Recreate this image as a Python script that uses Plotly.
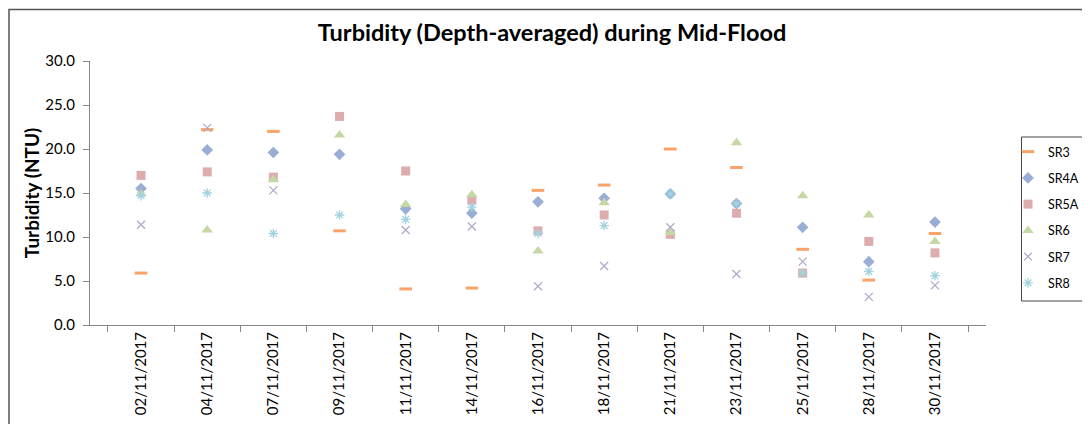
import plotly.graph_objects as go

dates = ["02/11/2017", "04/11/2017", "07/11/2017", "09/11/2017", "11/11/2017",
         "14/11/2017", "16/11/2017", "18/11/2017", "21/11/2017", "23/11/2017",
         "25/11/2017", "28/11/2017", "30/11/2017"]

sr3 = [5.9, 22.2, 22.0, 10.7, 4.1, 4.2, 15.3, 15.9, 20.0, 17.9, 8.6, 5.1, 10.4]
sr4a = [15.5, 19.9, 19.6, 19.4, 13.2, 12.7, 14.0, 14.4, 14.9, 13.8, 11.1, 7.2, 11.7]
sr5a = [17.0, 17.4, 16.8, 23.7, 17.5, 14.2, 10.7, 12.5, 10.3, 12.7, 5.9, 9.5, 8.2]
sr6 = [14.9, 10.8, 16.5, 21.6, 13.7, 14.8, 8.4, 13.9, 10.5, 20.7, 14.7, 12.5, 9.5]
sr7 = [11.4, 22.4, 15.3, None, 10.8, 11.2, 4.4, 6.7, 11.1, 5.8, 7.2, 3.2, 4.5]
sr8 = [14.7, 15.0, 10.4, 12.5, 12.0, 13.4, 10.4, 11.3, 14.9, 13.8, 5.9, 6.1, 5.6]

series = [
    ("SR3", sr3, "line-ew", 9, "#F9A36A", 3),
    ("SR4A", sr4a, "diamond", 9, "#9AADD5", 0),
    ("SR5A", sr5a, "square", 9, "#DDADAE", 0),
    ("SR6", sr6, "triangle-up", 10, "#C5D8A3", 0),
    ("SR7", sr7, "x-thin", 8, "#B5A8CA", 1.3),
    ("SR8", sr8, "asterisk", 8, "#A2D2DE", 1.3),
]

FONT = "Lato"
# page has an 8px body margin; the figure runs past the window's right edge,
# like the reference, whose legend box is cut by the picture edge
W, H = 1140, 416
L, T, B = 82, 53, 99
PW = 896
R = W - L - PW
PH = H - T - B  # 264

def px_x(p):  # window pixel -> paper x
    return (p - 90) / PW

def px_y(p):  # window pixel -> paper y
    return (325 - p) / PH

fig = go.Figure()
for name, vals, sym, size, col, lw in series:
    marker = dict(symbol=sym, size=size, color=col)
    marker["line"] = dict(color=col, width=lw) if lw else dict(width=0)
    fig.add_trace(go.Scatter(x=dates, y=vals, mode="markers", name=name,
                             marker=marker, legendgroup=name))

fig.update_layout(
    width=W, height=H,
    margin=dict(l=L, r=R, t=T, b=B, autoexpand=False),
    paper_bgcolor="white", plot_bgcolor="white",
    font=dict(family=FONT, size=15, color="#000"),
    title=dict(text="<b>Turbidity (Depth-averaged) during Mid-Flood</b>",
               x=px_x(552), xanchor="center", xref="paper",
               y=1 - 25 / H, yanchor="middle",
               font=dict(family=FONT, size=23.5, color="#000")),
    showlegend=True,
    legend=dict(x=px_x(1008), xanchor="left", y=px_y(137), yanchor="top",
                borderwidth=0, bgcolor="rgba(0,0,0,0)",
                font=dict(family=FONT, size=12.5), tracegroupgap=7,
                traceorder="grouped", itemwidth=30),
    shapes=[
        dict(type="rect", xref="paper", yref="paper",
             x0=px_x(9), x1=1.3, y0=-0.6, y1=px_y(9.5),
             line=dict(color="#555", width=1.5), layer="below"),
        dict(type="rect", xref="paper", yref="paper",
             x0=px_x(1021.5), x1=1.3, y0=px_y(301), y1=px_y(137),
             line=dict(color="#444", width=1), fillcolor="white", layer="below"),
    ],
)
fig.update_xaxes(type="category", categoryorder="array", categoryarray=dates,
                 tickson="boundaries", ticks="outside", ticklen=6,
                 tickcolor="#868686", showline=True, linecolor="#868686",
                 linewidth=1, showgrid=False, tickangle=-90, automargin=False,
                 tickfont=dict(family=FONT, size=15), zeroline=False)
fig.update_yaxes(range=[0, 30], dtick=5, tickformat=".1f", ticks="outside",
                 ticklen=6, tickcolor="#868686", showline=True, automargin=False,
                 linecolor="#868686", linewidth=1, showgrid=False, zeroline=False,
                 tickfont=dict(family=FONT, size=15), ticklabelstandoff=5,
                 title=dict(text="<b>Turbidity (NTU)</b>",
                            font=dict(family=FONT, size=19), standoff=0))

fig.write_html("out.html",
               post_script="document.documentElement.style.overflow='hidden';")
